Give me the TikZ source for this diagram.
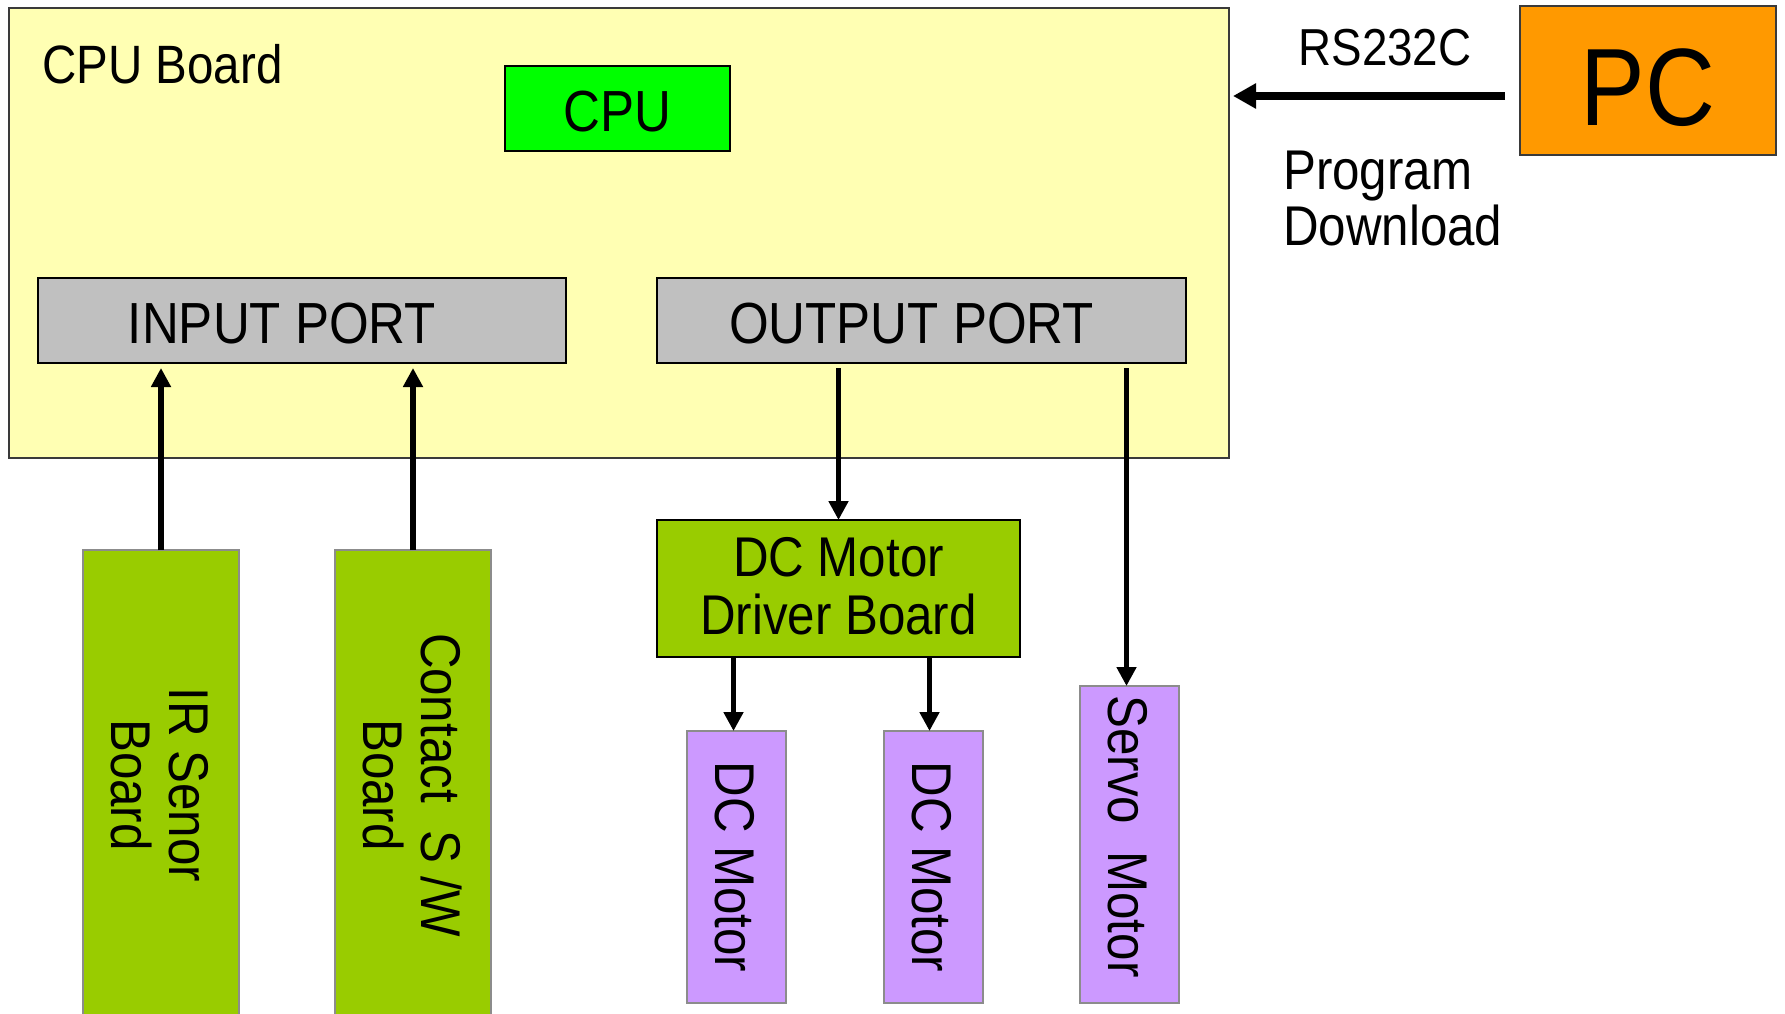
\documentclass[tikz,border=0pt]{standalone}
\usepackage{fontspec}
\usepackage{graphicx}
\setmainfont{Liberation Sans}[FakeStretch=0.88]
\usetikzlibrary{arrows.meta}
\definecolor{boardyellow}{HTML}{FFFFB3}
\definecolor{cpugreen}{HTML}{00FF00}
\definecolor{portgray}{HTML}{C0C0C0}
\definecolor{olivegreen}{HTML}{99CC00}
\definecolor{motorpurple}{HTML}{CC99FF}
\definecolor{pcorange}{HTML}{FF9900}
\definecolor{edgegray}{HTML}{8C8C8C}
\definecolor{edgedark}{HTML}{3A3A3A}
\newcommand{\vtext}[1]{\rotatebox{-90}{\begin{tabular}{@{}c@{}}#1\end{tabular}}\hspace{18pt}}
\newcommand{\shiftv}[2]{\raisebox{#1}[\height][\depth]{#2}}
\begin{document}
\begin{tikzpicture}[x=1pt,y=-1pt,
  blk/.style={draw, line width=2pt, inner sep=0pt, outer sep=0pt, text=black, align=center},
  bigfont/.style={font=\fontsize{56}{58}\selectfont},
  arr/.style={-{Triangle[length=19pt,width=19pt]}, line width=5.5pt},
  bigarr/.style={-{Triangle[length=23pt,width=24pt]}, line width=8pt}]
\useasboundingbox (0,0) rectangle (1785,1014);
\fill[white] (0,0) rectangle (1785,1014);

% CPU board
\node[blk, draw=edgedark, fill=boardyellow, minimum width=1220pt, minimum height=450pt] (board) at (619,233) {};
\node[anchor=west, inner sep=0pt, font=\fontsize{54}{56}\selectfont] (boardlbl) at (42,64) {CPU Board};
\node[blk, fill=cpugreen, minimum width=225pt, minimum height=85pt, font=\fontsize{58}{60}\selectfont] (cpu) at (617.5,108.5) {\shiftv{-3pt}{CPU}};
\node[blk, fill=portgray, minimum width=528pt, minimum height=85pt, font=\fontsize{58}{60}\selectfont] (inport) at (302,320.5) {\shiftv{-3pt}{INPUT PORT}\hspace{40pt}};
\node[blk, fill=portgray, minimum width=529pt, minimum height=85pt, font=\fontsize{58}{60}\selectfont] (outport) at (921.5,320.5) {\shiftv{-3pt}{OUTPUT PORT}\hspace{20pt}};

% PC
\node[blk, draw=edgedark, fill=pcorange, minimum width=256pt, minimum height=149pt, font=\fontsize{110}{110}\selectfont] (pc) at (1648,80.5) {\shiftv{-7pt}{PC}};
\node[inner sep=0pt, font=\fontsize{52}{54}\selectfont] (rslbl) at (1385,48) {RS232C};
\node[anchor=west, inner sep=0pt, align=left, font=\fontsize{56}{56}\selectfont] (dllbl) at (1283,199) {Program\\Download};

% input boards
\node[blk, draw=edgegray, fill=olivegreen, minimum width=156pt, minimum height=470pt, bigfont] (ir) at (161,785) {\vtext{IR Senor\\Board}};
\node[blk, draw=edgegray, fill=olivegreen, minimum width=156pt, minimum height=470pt, bigfont] (contact) at (413,785) {\vtext{Contact\ \ S /W\\Board}};

% output side
\node[blk, fill=olivegreen, minimum width=363pt, minimum height=137pt, bigfont] (driver) at (838.5,588.5) {\shiftv{-5pt}{\begin{tabular}{@{}c@{}}DC Motor\\Driver Board\end{tabular}}};
\node[blk, draw=edgegray, fill=motorpurple, minimum width=99pt, minimum height=272pt, bigfont] (m1) at (736.5,867) {\vtext{DC Motor}};
\node[blk, draw=edgegray, fill=motorpurple, minimum width=99pt, minimum height=272pt, bigfont] (m2) at (933.5,867) {\vtext{DC Motor}};
\node[blk, draw=edgegray, fill=motorpurple, minimum width=99pt, minimum height=317pt, bigfont] (servo) at (1129.5,844.5) {\shiftv{8pt}{\vtext{Servo\ \ Motor}}};

% connectors
\draw[arr, shorten >=5pt] (ir.north) -- (ir.north |- inport.south);
\draw[arr, shorten >=5pt] (contact.north) -- (contact.north |- inport.south);
\draw[arr, shorten <=5pt] (driver.north |- outport.south) -- (driver.north);
\draw[arr, shorten <=5pt] ([xshift=-3pt]servo.north |- outport.south) -- ([xshift=-3pt]servo.north);
\draw[arr] ([xshift=-3pt]m1.north |- driver.south) -- ([xshift=-3pt]m1.north);
\draw[arr] ([xshift=-4pt]m2.north |- driver.south) -- ([xshift=-4pt]m2.north);
\draw[bigarr, shorten <=15pt, shorten >=4pt] ([yshift=-15.5pt]pc.west) -- ([yshift=-15.5pt]pc.west -| board.east);
\end{tikzpicture}
\end{document}
